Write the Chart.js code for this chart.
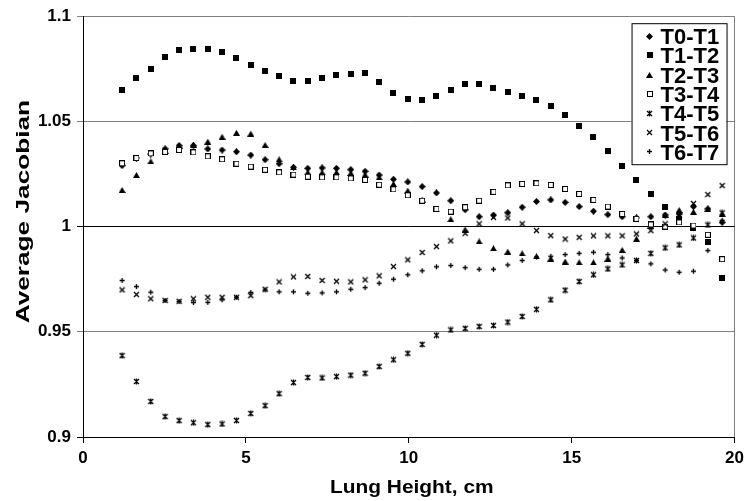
<!DOCTYPE html>
<html>
<head>
<meta charset="utf-8">
<script src="https://cdn.jsdelivr.net/npm/chart.js@4.4.0/dist/chart.umd.min.js"></script>
<style>
  html, body { margin: 0; padding: 0; background: #fff; }
</style>
</head>
<body>
<canvas id="jacChart" width="749" height="501"></canvas>
<script>
// slice positions along the lung (cm)
var heights = [1.20, 1.64, 2.08, 2.52, 2.95, 3.39, 3.83, 4.27, 4.71, 5.15,
  5.59, 6.02, 6.46, 6.90, 7.34, 7.78, 8.22, 8.66, 9.09, 9.53,
  9.97, 10.41, 10.85, 11.29, 11.73, 12.16, 12.60, 13.04, 13.48, 13.92,
  14.36, 14.80, 15.23, 15.67, 16.11, 16.55, 16.99, 17.43, 17.87, 18.30,
  18.74, 19.18, 19.62];

var t0t1 = [1.029, 1.0326, 1.0345, 1.037, 1.0385, 1.0385, 1.0369, 1.0364, 1.0356, 1.034,
  1.0318, 1.0299, 1.0282, 1.0277, 1.0279, 1.0277, 1.0271, 1.0263, 1.0245, 1.0225,
  1.0212, 1.019, 1.016, 1.0123, 1.008, 1.0047, 1.0055, 1.0066, 1.0092, 1.0119,
  1.0127, 1.0115, 1.0095, 1.0073, 1.0057, 1.0047, 1.0042, 1.0047, 1.0055, 1.006,
  1.0095, 1.0084, 1.002];
var t1t2 = [1.0649, 1.0705, 1.075, 1.0807, 1.084, 1.0844, 1.0844, 1.083, 1.0801, 1.0769,
  1.0739, 1.0716, 1.0693, 1.0693, 1.0705, 1.0722, 1.0727, 1.0728, 1.0687, 1.0635,
  1.0608, 1.0602, 1.0621, 1.0651, 1.0676, 1.0679, 1.0658, 1.0641, 1.0622, 1.0603,
  1.0571, 1.053, 1.048, 1.0427, 1.0361, 1.029, 1.0223, 1.0157, 1.0092, 1.0035,
  0.9992, 0.9929, 0.9756];
var t2t3 = [1.0174, 1.0245, 1.031, 1.036, 1.0385, 1.039, 1.0404, 1.0427, 1.0446, 1.0442,
  1.0388, 1.032, 1.0282, 1.0258, 1.0258, 1.0258, 1.0255, 1.0247, 1.0234, 1.0203,
  1.0171, 1.0128, 1.0082, 1.0035, 0.9986, 0.993, 0.9897, 0.9881, 0.9873, 0.9859,
  0.9848, 0.9834, 0.983, 0.983, 0.9848, 0.9889, 0.9942, 1.0005, 1.0057, 1.0079,
  1.007, 1.0084, 1.006];
var t3t4 = [1.0301, 1.0326, 1.0348, 1.0355, 1.0364, 1.0353, 1.0334, 1.032, 1.0299, 1.0285,
  1.027, 1.0258, 1.0247, 1.0237, 1.0234, 1.0234, 1.0229, 1.0222, 1.0199, 1.0177,
  1.0149, 1.0123, 1.0084, 1.0071, 1.0092, 1.0123, 1.0165, 1.0196, 1.0203, 1.0206,
  1.0198, 1.0179, 1.0155, 1.0127, 1.0095, 1.006, 1.0037, 1.001, 1.0, 1.002,
  1.0005, 0.9961, 0.9845];
var t4t5 = [0.9387, 0.9264, 0.9169, 0.9097, 0.9078, 0.9068, 0.9059, 0.9062, 0.9079, 0.9112,
  0.9149, 0.9206, 0.9259, 0.9283, 0.9281, 0.9287, 0.9294, 0.9303, 0.9335, 0.9367,
  0.9398, 0.944, 0.9484, 0.9509, 0.9516, 0.9525, 0.953, 0.9546, 0.9573, 0.9607,
  0.9652, 0.9698, 0.9739, 0.9771, 0.9799, 0.9818, 0.9839, 0.9873, 0.9899, 0.9913,
  0.9946, 1.0008, 1.0065];
var t5t6 = [0.9699, 0.9677, 0.9657, 0.9649, 0.9645, 0.9657, 0.9664, 0.9664, 0.9664, 0.9672,
  0.9702, 0.9737, 0.9761, 0.9763, 0.9744, 0.974, 0.9737, 0.9747, 0.9766, 0.981,
  0.9842, 0.9877, 0.9905, 0.9932, 0.9968, 1.0013, 1.0044, 1.0041, 1.0013, 0.9981,
  0.9957, 0.9941, 0.9949, 0.9956, 0.9956, 0.9956, 0.9965, 0.9981, 1.0013, 1.0052,
  1.011, 1.0152, 1.0195];
var t6t7 = [0.9744, 0.9715, 0.9688, 0.9649, 0.9644, 0.9639, 0.964, 0.9652, 0.9664, 0.9687,
  0.9699, 0.969, 0.969, 0.9683, 0.9685, 0.969, 0.9702, 0.971, 0.9731, 0.975,
  0.9771, 0.979, 0.9809, 0.9815, 0.9805, 0.9797, 0.9797, 0.9818, 0.9839, 0.9855,
  0.9859, 0.9867, 0.9873, 0.9878, 0.9867, 0.9851, 0.9839, 0.9823, 0.9794, 0.9783,
  0.9788, 0.9886, 1.003];

var seriesNames = ['T0-T1', 'T1-T2', 'T2-T3', 'T3-T4', 'T4-T5', 'T5-T6', 'T6-T7'];
var seriesValues = [t0t1, t1t2, t2t3, t3t4, t4t5, t5t6, t6t7];
var xTicks = [0, 5, 10, 15, 20];
var yTicks = [0.9, 0.95, 1, 1.05, 1.1];
var xTitle = 'Lung Height, cm';
var yTitle = 'Average Jacobian';

var FONT = '"Liberation Sans", Arial, sans-serif';

// little excel-like markers
function marker(w, h, draw) {
    var c = document.createElement('canvas');
    c.width = w;
    c.height = h;
    var g = c.getContext('2d');
    g.fillStyle = '#000';
    g.strokeStyle = '#000';
    g.lineWidth = 1.3;
    draw(g);
    return c;
}
var markers = [
    marker(7, 7, function (g) { // diamond
        g.beginPath(); g.moveTo(3.5, 0); g.lineTo(7, 3.5); g.lineTo(3.5, 7); g.lineTo(0, 3.5); g.closePath(); g.fill();
    }),
    marker(6, 6, function (g) { g.fillRect(0, 0, 6, 6); }), // square
    marker(7, 6, function (g) { // triangle
        g.beginPath(); g.moveTo(3.5, 0); g.lineTo(7, 6); g.lineTo(0, 6); g.closePath(); g.fill();
    }),
    marker(6, 6, function (g) { // open square
        g.lineWidth = 1;
        g.fillStyle = '#fff'; g.fillRect(0, 0, 6, 6); g.strokeRect(0.5, 0.5, 5, 5);
    }),
    marker(7, 7, function (g) { // star
        g.beginPath();
        g.moveTo(1, 1); g.lineTo(6, 6); g.moveTo(6, 1); g.lineTo(1, 6);
        g.moveTo(3.5, 0.5); g.lineTo(3.5, 6.5);
        g.stroke();
    }),
    marker(7, 7, function (g) { // x
        g.beginPath(); g.moveTo(1, 1); g.lineTo(6, 6); g.moveTo(6, 1); g.lineTo(1, 6); g.stroke();
    }),
    marker(7, 7, function (g) { // plus
        g.beginPath(); g.moveTo(3.5, 1); g.lineTo(3.5, 6); g.moveTo(1, 3.5); g.lineTo(6, 3.5); g.stroke();
    })
];

var datasets = seriesNames.map(function (name, i) {
    return {
        label: name,
        data: heights.map(function (h, k) { return {x: h, y: seriesValues[i][k]}; }),
        pointStyle: markers[i],
        pointRadius: 3,
        pointHoverRadius: 3,
        showLine: false,
        order: seriesNames.length - i // later series on top like excel
    };
});

function gridColor(ctx) {
    var v = ctx.tick ? ctx.tick.value : null;
    if (v === 1) return '#000';
    if (v === 0.9) return 'rgba(0,0,0,0)';
    return '#808080';
}

var extras = {
    id: 'extras',
    afterDraw: function (chart) {
        var ctx = chart.ctx, a = chart.chartArea;
        ctx.save();
        ctx.fillStyle = '#000';
        ctx.textBaseline = 'alphabetic';

        // axis titles (a bit stretched like the original)
        ctx.font = 'bold 19px ' + FONT;
        ctx.textAlign = 'center';
        ctx.save();
        ctx.translate((a.left + a.right) / 2 + 3, 493);
        ctx.scale(1.1, 1);
        ctx.fillText(xTitle, 0, 0);
        ctx.restore();

        ctx.save();
        ctx.translate(29, (a.top + a.bottom) / 2 - 15);
        ctx.rotate(-Math.PI / 2);
        ctx.scale(1.38, 1);
        ctx.fillText(yTitle, 0, 0);
        ctx.restore();

        // legend box
        var bx = a.right - 103, by = a.top + 7, bw = 95, bh = 141;
        ctx.fillStyle = '#fff';
        ctx.fillRect(bx, by, bw, bh);
        ctx.strokeStyle = '#000';
        ctx.lineWidth = 1;
        ctx.strokeRect(bx + 0.5, by + 0.5, bw, bh);
        ctx.fillStyle = '#000';
        ctx.font = 'bold 22px ' + FONT;
        ctx.textAlign = 'left';
        seriesNames.forEach(function (name, i) {
            var cy = by + 13 + i * 19.27;
            var m = markers[i];
            ctx.drawImage(m, Math.round(bx + 18 - m.width / 2), Math.round(cy - m.height / 2));
            ctx.fillText(name, bx + 29, cy + 8);
        });
        ctx.restore();
    }
};

var myChart = new Chart(document.getElementById('jacChart').getContext('2d'), {
    type: 'scatter',
    data: {datasets: datasets},
    options: {
        responsive: false,
        animation: false,
        layout: {padding: {top: 15, right: 12, left: 0, bottom: 0}},
        plugins: {
            legend: {display: false},
            tooltip: {enabled: false}
        },
        scales: {
            x: {
                type: 'linear',
                min: 0,
                max: 20,
                afterBuildTicks: function (s) { s.ticks = xTicks.map(function (v) { return {value: v}; }); },
                afterFit: function (s) { s.height = 64; },
                grid: {
                    color: function (ctx) { return ctx.tick && ctx.tick.value === 20 ? '#808080' : 'rgba(0,0,0,0)'; },
                    tickColor: '#000',
                    tickLength: 6
                },
                border: {color: '#000', width: 1},
                ticks: {
                    color: '#000',
                    padding: 5,
                    maxRotation: 0,
                    font: {family: FONT, size: 17, weight: 'bold'},
                    callback: function (v) { return String(v); }
                }
            },
            y: {
                min: 0.9,
                max: 1.1,
                afterBuildTicks: function (s) { s.ticks = yTicks.map(function (v) { return {value: v}; }); },
                afterFit: function (s) { s.width = 83; },
                grid: {
                    color: gridColor,
                    tickColor: function (ctx) { return ctx.tick && (ctx.tick.value === 1 || ctx.tick.value === 0.9) ? '#000' : '#808080'; },
                    tickLength: 6
                },
                border: {color: '#000', width: 1},
                ticks: {
                    color: '#000',
                    padding: 6,
                    font: {family: FONT, size: 17, weight: 'bold'},
                    callback: function (v) { return String(v); }
                }
            }
        }
    },
    plugins: [extras]
});
</script>
</body>
</html>
